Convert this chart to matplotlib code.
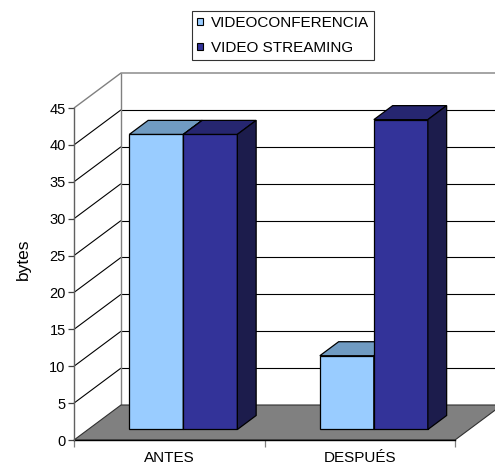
import matplotlib
matplotlib.use("Agg")
import matplotlib.pyplot as plt
from matplotlib.patches import Polygon, Patch

plt.rcParams['font.family'] = ['Liberation Sans', 'DejaVu Sans']

categories = ["ANTES", "DESPUÉS"]
series_names = ["VIDEOCONFERENCIA", "VIDEO STREAMING"]
videoconferencia = [40, 10]
video_streaming = [40, 42]
y_ticks = [0, 5, 10, 15, 20, 25, 30, 35, 40, 45]

front_colors = ["#99CCFF", "#333399"]
top_colors = ["#709BC2", "#262670"]
side_colors = ["#5B80A6", "#1C1C4C"]

W, H = 495, 466
fig = plt.figure(figsize=(W / 100, H / 100), dpi=100)
ax = fig.add_axes([74 / W, 26 / H, 381 / W, 332 / H])
ax.set_xlim(0, len(categories))
ax.set_ylim(0, 45)

# oblique projection of the depth axis, in data units
DX, DY = 0.2467, 4.744
D0, D1 = 0.3, 0.7          # bars sit between these depth fractions
bar_w = 0.2835

def proj(x, y, d):
    return (x + d * DX, y + d * DY)

ymax = y_ticks[-1]
xmax = len(categories)
line_kw = dict(clip_on=False, solid_capstyle='butt')

# back wall and left wall gridlines
for v in y_ticks[1:-1]:
    p0, p1 = proj(0, v, 0), proj(0, v, 1)
    ax.plot([p0[0], p1[0]], [p0[1], p1[1]], color='black', lw=0.8, zorder=1, **line_kw)
    q0, q1 = proj(0, v, 1), proj(xmax, v, 1)
    ax.plot([q0[0], q1[0]], [q0[1], q1[1]], color='black', lw=0.8, zorder=1, **line_kw)

# wall outlines
a, b, c = proj(0, ymax, 0), proj(0, ymax, 1), proj(xmax, ymax, 1)
ax.plot([a[0], b[0], c[0]], [a[1], b[1], c[1]], color='#808080', lw=1.0, zorder=1, **line_kw)
d = proj(0, 0, 1)
ax.plot([b[0], d[0]], [b[1], d[1]], color='#808080', lw=1.0, zorder=1, **line_kw)

# floor
floor = Polygon([proj(0, 0, 0), proj(xmax, 0, 0), proj(xmax, 0, 1), proj(0, 0, 1)],
                closed=True, facecolor='#808080', edgecolor='#303030', lw=0.8,
                zorder=2, clip_on=False)
ax.add_patch(floor)

# bars
series = [videoconferencia, video_streaming]
z = 3
for i in range(len(categories)):
    for s, vals in enumerate(series):
        v = vals[i]
        x_left = i + 0.5 - bar_w + s * bar_w
        fx, fy = proj(x_left, 0, D0)
        ax.bar(fx, v, width=bar_w, bottom=fy, align='edge', color=front_colors[s],
               edgecolor='black', lw=0.9, zorder=z, clip_on=False)
        top = fy + v
        ddx, ddy = (D1 - D0) * DX, (D1 - D0) * DY
        top_face = Polygon([(fx, top), (fx + bar_w, top), (fx + bar_w + ddx, top + ddy),
                            (fx + ddx, top + ddy)], closed=True, facecolor=top_colors[s],
                           edgecolor='black', lw=0.9, zorder=z, clip_on=False)
        side_face = Polygon([(fx + bar_w, fy), (fx + bar_w + ddx, fy + ddy),
                             (fx + bar_w + ddx, top + ddy), (fx + bar_w, top)], closed=True,
                            facecolor=side_colors[s], edgecolor='black', lw=0.9,
                            zorder=z, clip_on=False)
        ax.add_patch(top_face)
        ax.add_patch(side_face)
        z += 1

# axes styling
for name in ['top', 'right', 'bottom']:
    ax.spines[name].set_visible(False)
ax.spines['left'].set_color('#606060')
ax.spines['left'].set_linewidth(1.0)
ax.spines['left'].set_zorder(2.5)
ax.axhline(0, color='black', lw=1.0, zorder=2.5, clip_on=False)
ax.set_yticks(y_ticks)
ax.tick_params(axis='y', direction='out', length=4, width=0.9, color='#404040',
               labelsize=10.5, pad=2)
ax.set_xticks(range(xmax + 1))
ax.set_xticklabels([''] * (xmax + 1))
ax.tick_params(axis='x', which='major', direction='out', length=5, width=0.9, color='#808080')
ax.set_xticks([i + 0.5 for i in range(xmax)], minor=True)
ax.set_xticklabels(categories, minor=True)
ax.tick_params(axis='x', which='minor', length=0, labelsize=11, pad=8)
ax.patch.set_visible(False)

ax.set_ylabel('bytes', fontsize=12.5)
ax.yaxis.set_label_coords(-0.112, 0.545)

handles = [Patch(facecolor=front_colors[k], edgecolor='black', lw=0.8) for k in range(2)]
leg = fig.legend(handles, series_names, loc='upper left',
                 bbox_to_anchor=(192 / W, 1 - 11 / H), fontsize=11,
                 frameon=True, fancybox=False, shadow=False, borderaxespad=0,
                 handlelength=0.42, handleheight=0.32, handletextpad=0.5,
                 labelspacing=0.72, borderpad=0.32)
leg.get_frame().set_edgecolor('black')
leg.get_frame().set_linewidth(0.8)

fig.savefig('out.png', dpi=100)
